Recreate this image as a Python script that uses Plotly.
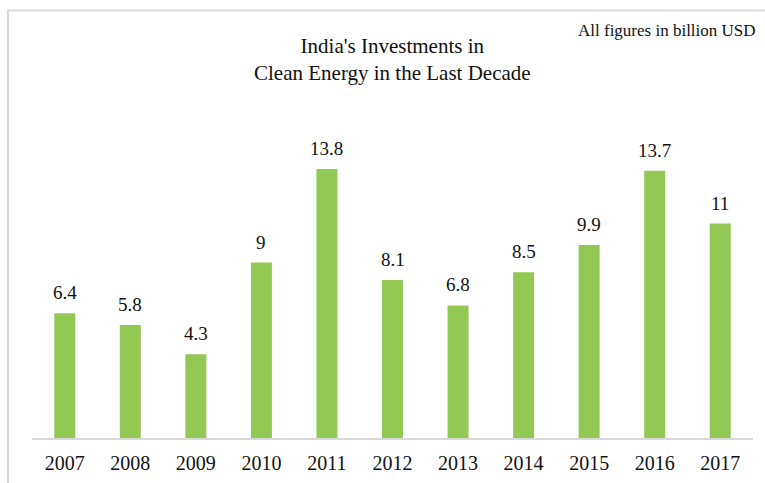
import plotly.graph_objects as go

years = ["2007", "2008", "2009", "2010", "2011", "2012", "2013", "2014", "2015", "2016", "2017"]
investments = [6.4, 5.8, 4.3, 9, 13.8, 8.1, 6.8, 8.5, 9.9, 13.7, 11]
value_labels = ["6.4", "5.8", "4.3", "9", "13.8", "8.1", "6.8", "8.5", "9.9", "13.7", "11"]

FONT = "Liberation Serif, Times New Roman, serif"

W, H = 765, 483
ML, MR, MT, MB = 32, 12, 126, 45
plot_w = W - ML - MR
plot_h = H - MT - MB

fig = go.Figure()
fig.add_trace(go.Bar(
    x=years, y=investments,
    marker=dict(color="#92C955", line=dict(width=0)),
    width=0.32,
    hoverinfo="x+y",
))

annotations = []
for i, (v, lab) in enumerate(zip(investments, value_labels)):
    annotations.append(dict(
        x=i, y=v, xref="x", yref="y", text=lab, showarrow=False,
        yanchor="bottom", yshift=8, font=dict(family=FONT, size=19, color="#111111"),
    ))

annotations.append(dict(
    x=0.5, y=1.0, xref="paper", yref="paper", xanchor="center", yanchor="bottom",
    yshift=39, text="India's Investments in<br>Clean Energy in the Last Decade",
    showarrow=False, align="center",
    font=dict(family=FONT, size=21, color="#111111"),
))
annotations.append(dict(
    x=(758 - ML) / plot_w, y=(H - MB - 31) / plot_h, xref="paper", yref="paper",
    showarrow=False, text="All figures in billion USD", xanchor="right", yanchor="middle",
    font=dict(family=FONT, size=17, color="#111111"),
))

fig.update_layout(
    width=W, height=H,
    margin=dict(l=ML, r=MR, t=MT, b=MB, autoexpand=False),
    paper_bgcolor="white", plot_bgcolor="white",
    showlegend=False,
    xaxis=dict(
        type="category", range=[-0.5, len(years) - 0.5], autorange=False,
        showgrid=False, zeroline=False, automargin=False,
        showline=True, linecolor="#D9D9D9", linewidth=2,
        ticks="", ticklabelstandoff=6,
        tickfont=dict(family=FONT, size=20, color="#111111"),
    ),
    yaxis=dict(range=[0, 16], visible=False, automargin=False),
    annotations=annotations,
)

# light grey border of the (cropped) chart frame
fig.add_shape(
    type="rect", xref="paper", yref="paper",
    x0=(8 - ML) / plot_w, x1=(790 - ML) / plot_w,
    y0=(H - MB - 520) / plot_h, y1=(H - MB - 10.5) / plot_h,
    line=dict(color="#D9D9D9", width=2), fillcolor="rgba(0,0,0,0)", layer="below",
)

fig.write_html("out.html", config={"displayModeBar": False},
               post_script="document.body.style.margin='0';")
